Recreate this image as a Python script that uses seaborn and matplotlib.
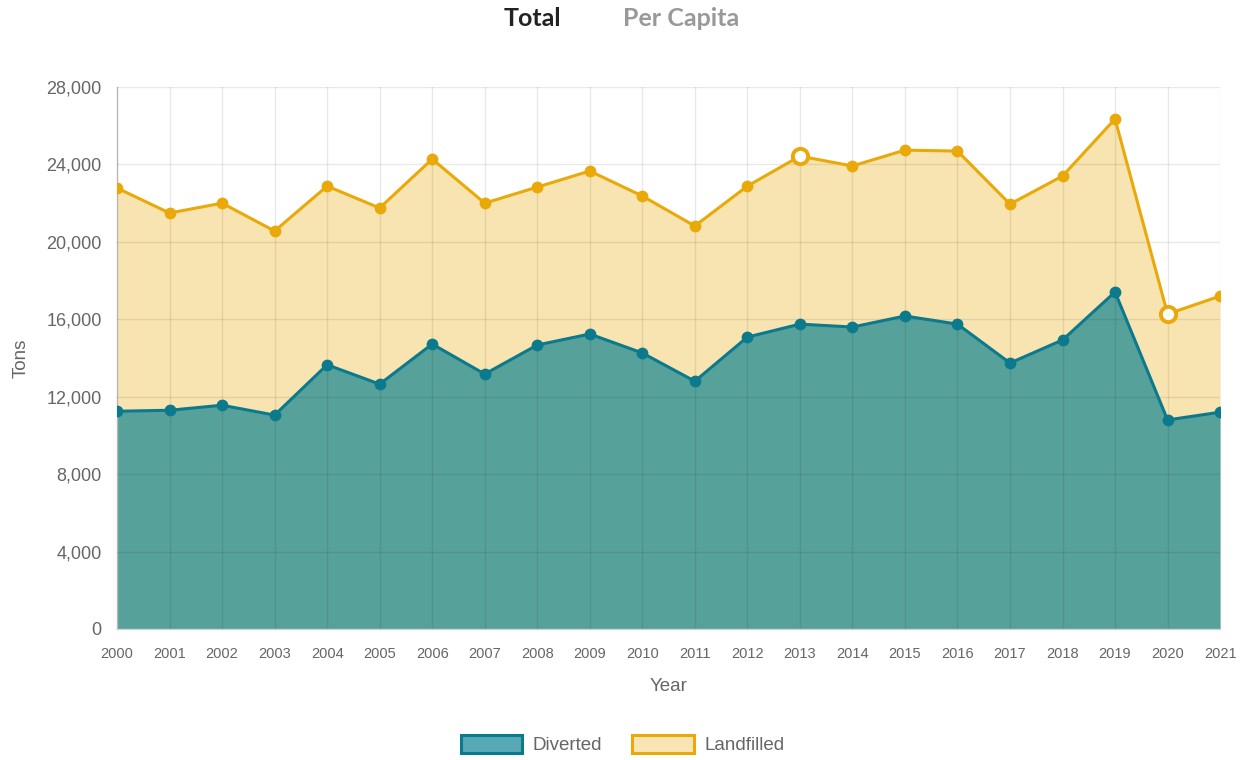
import numpy as np
import pandas as pd
import matplotlib
matplotlib.use("Agg")
import matplotlib.pyplot as plt
import seaborn as sns
from matplotlib.patches import Patch
from matplotlib.ticker import FuncFormatter, MultipleLocator

years = list(range(2000, 2022))
diverted = [11250, 11300, 11560, 11050, 13650, 12650, 14720, 13170, 14670, 15240,
            14260, 12800, 15080, 15750, 15600, 16170, 15750, 13740, 14930, 17410,
            10800, 11200]
totals_read = [22780, 21490, 22000, 20560, 22880, 21750, 24280, 22000, 22830, 23660,
               22370, 20820, 22880, 24430, 23920, 24740, 24690, 21950, 23400, 26350,
               16270, 17200]
landfilled = [t - d for t, d in zip(totals_read, diverted)]
highlight_years = [2013, 2020]

series_names = ["Diverted", "Landfilled"]
line_colors = ["#0c7a8d", "#e9a908"]
fill_colors = ["#57a19b", "#f8e4b0"]
legend_fills = ["#58a9b6", "#f9e5b3"]

sns.set_theme(style="whitegrid")
plt.rcParams['font.family'] = ['Liberation Sans', 'DejaVu Sans']

df = pd.DataFrame({"Year": years, "Diverted": diverted, "Landfilled": landfilled})
df["Total"] = df["Diverted"] + df["Landfilled"]

fig = plt.figure(figsize=(12.45, 7.6), dpi=100)
ax = fig.add_axes([0.094, 0.1724, 0.886, 0.7131])

ax.fill_between(df["Year"], 0, df["Diverted"], color=fill_colors[0], alpha=1.0, zorder=1, lw=0)
ax.fill_between(df["Year"], df["Diverted"], df["Total"], color=fill_colors[1], alpha=1.0, zorder=1, lw=0)

sns.lineplot(data=df, x="Year", y="Diverted", ax=ax, color=line_colors[0], lw=2.2,
             marker="o", markersize=8.5, markeredgewidth=0, zorder=4)
sns.lineplot(data=df, x="Year", y="Total", ax=ax, color=line_colors[1], lw=2.2,
             marker="o", markersize=8.5, markeredgewidth=0, zorder=4)
hl = df[df["Year"].isin(highlight_years)]
ax.plot(hl["Year"], hl["Total"], linestyle="none", marker="o", markersize=11,
        markerfacecolor="white", markeredgecolor=line_colors[1], markeredgewidth=2.8, zorder=5)

ax.set_xlim(2000, 2021)
ax.set_ylim(0, 28000)
ax.set_xticks(years)
ax.yaxis.set_major_locator(MultipleLocator(4000))
ax.yaxis.set_major_formatter(FuncFormatter(lambda v, p: f"{int(v):,}"))

ax.grid(True, color="#000000", alpha=0.085, lw=1)
ax.set_axisbelow(False)
for gl in ax.get_xgridlines() + ax.get_ygridlines():
    gl.set_zorder(2)

for s in ["top", "right"]:
    ax.spines[s].set_visible(False)
ax.spines["left"].set_color("#c8c8c8")
ax.spines["bottom"].set_color("#d4d4d4")
ax.spines["left"].set_linewidth(1.0)
ax.spines["bottom"].set_linewidth(1.0)
ax.tick_params(axis="both", colors="#666666", length=9, width=1, direction="out", pad=3)
ax.tick_params(axis="x", color="#dddddd", labelsize=10.5, pad=4)
ax.tick_params(axis="y", color="#cccccc", labelsize=13, pad=2)
ax.set_facecolor("white")

ax.set_xlabel("Year", fontsize=13.5, color="#666666", labelpad=12)
ax.set_ylabel("Tons", fontsize=13.5, color="#666666", labelpad=12)

fig.text(0.4275, 0.975, "Total", ha="center", va="center", fontsize=18,
         fontweight="bold", color="#222222", family=["Lato", "DejaVu Sans"])
fig.text(0.547, 0.975, "Per Capita", ha="center", va="center", fontsize=18,
         fontweight="bold", color="#999999", family=["Lato", "DejaVu Sans"])

handles = [Patch(facecolor=legend_fills[i], edgecolor=line_colors[i], lw=2.2, label=series_names[i])
           for i in range(2)]
fig.legend(handles=handles, loc="center", bbox_to_anchor=(0.5, 0.02), ncol=2, frameon=False,
           handlelength=3.3, handleheight=1.05, fontsize=13.5, labelcolor="#666666",
           columnspacing=1.6, handletextpad=0.55)

fig.savefig("out.png", dpi=100, facecolor="white")
